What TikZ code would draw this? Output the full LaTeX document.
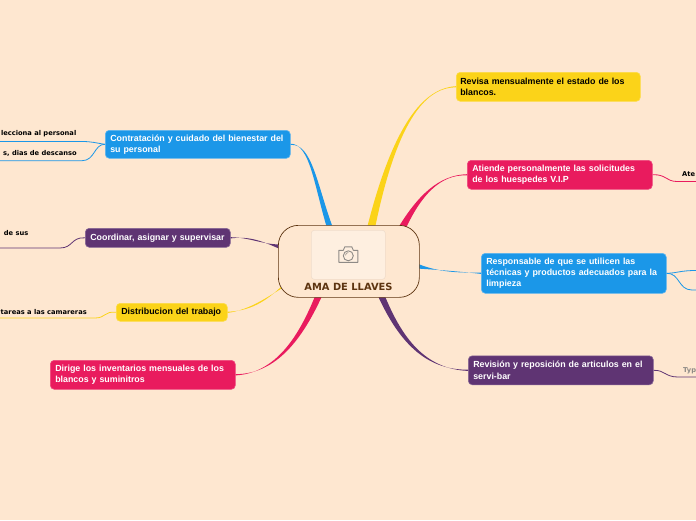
\documentclass[tikz,border=0pt]{standalone}
\usepackage{fontspec}
\setmainfont{Liberation Sans}
\newfontfamily\smallfont{DejaVu Sans}
\definecolor{bg}{HTML}{FEE7D0}
\definecolor{cblue}{HTML}{1B97E8}
\definecolor{cyellow}{HTML}{FBD319}
\definecolor{cred}{HTML}{E91B5E}
\definecolor{cpurple}{HTML}{5F3473}
\definecolor{cbrown}{HTML}{5D3410}
\definecolor{cgrey}{HTML}{8E8A86}
\tikzset{
 x=1pt,y=-1pt,
 topic/.style={rounded corners=4pt,inner xsep=5pt,inner ysep=0pt,align=left,font=\bfseries\fontsize{8.85}{11.2}\selectfont,text=white,anchor=north west,line width=.6pt},
 tblue/.style={topic,fill=cblue,draw=cblue!70!white},
 tyellow/.style={topic,fill=cyellow,draw=cyellow!80!white,text=black},
 tred/.style={topic,fill=cred,draw=cred!80!white},
 tpurple/.style={topic,fill=cpurple,draw=cpurple!75!white},
 subtext/.style={font=\smallfont\bfseries\fontsize{6.7}{8}\selectfont,inner sep=0pt,text=black},
 thinline/.style={line width=.8pt},
}
\begin{document}
\begin{tikzpicture}
\useasboundingbox (0,0) rectangle (696,520);
\fill[bg] (0,0) rectangle (696,520);
% named end points
\coordinate (cTL) at (330,228);
\coordinate (cTR) at (371,228);
\coordinate (cTR2) at (402,228);
\coordinate (cR) at (417,266);
\coordinate (cBR) at (381,295);
\coordinate (cBL) at (319,295);
\coordinate (cL2) at (283,286);
\coordinate (cL) at (281,247);
\coordinate (e1) at (0,141.5);
\coordinate (e2) at (0,160.7);
\coordinate (e3) at (0,248);
\coordinate (e4) at (0,318);
\coordinate (e5) at (696,181.5);
\coordinate (e6) at (696,270.5);
\coordinate (e7) at (696,290);
\coordinate (e8) at (696,377);
% nodes
\node[tblue,minimum width=185pt,minimum height=28pt,text width=175pt] (n1) at (105,130) {\mbox{Contratación y cuidado del bienestar del}\\\mbox{su personal}};
\node[tyellow,inner xsep=4pt,minimum width=184pt,minimum height=29pt,text width=176pt] (n2) at (456,72) {\mbox{Revisa mensualmente el estado de los}\\\mbox{blancos.}};
\node[tred,minimum width=185pt,minimum height=29pt,text width=175pt] (n3) at (467,160) {\mbox{Atiende personalmente las solicitudes}\\\mbox{de los huespedes V.I.P}};
\node[tblue,minimum width=185pt,minimum height=40pt,text width=175pt] (n4) at (481,253) {\mbox{Responsable de que se utilicen las}\\\mbox{técnicas y productos adecuados para la}\\\mbox{limpieza}};
\node[tpurple,minimum width=185pt,minimum height=29pt,text width=175pt] (n5) at (468,355.5) {\mbox{Revisión y reposición de articulos en el}\\\mbox{servi-bar}};
\node[tpurple,minimum width=145pt,minimum height=19pt,text width=135pt] (n6) at (85,228) {\mbox{Coordinar, asignar y supervisar}};
\node[tyellow,minimum width=111pt,minimum height=18pt,text width=101pt] (n7) at (116,303) {\mbox{Distribucion del trabajo}};
\node[tred,minimum width=185pt,minimum height=29pt,text width=175pt] (n8) at (50,360) {\mbox{Dirige los inventarios mensuales de los}\\\mbox{blancos y suminitros}};
% tapered main connectors
\fill[cblue] ([yshift=-.6pt]n1.east) .. controls (312,143) and (317,185) .. ([xshift=3pt]cTL) -- ([xshift=-3pt]cTL) .. controls (314,185) and (310,144) .. ([yshift=.6pt]n1.east);
\fill[cyellow] ([yshift=-.6pt]n2.west) .. controls (424,87) and (396,125) .. ([xshift=4pt]cTR) -- ([xshift=-4pt]cTR) .. controls (393,125) and (423,88) .. ([yshift=.6pt]n2.west);
\fill[cred] ([yshift=-.6pt]n3.west) .. controls (440,174) and (421,196) .. ([xshift=4pt]cTR2) -- ([xshift=-4pt]cTR2) .. controls (418,195) and (439,175) .. ([yshift=.6pt]n3.west);
\fill[cblue] ([yshift=-.6pt]n4.west) .. controls (460,271.5) and (440,270) .. ([yshift=-2.5pt]cR) -- ([yshift=2.5pt]cR) .. controls (440,273) and (460,272.5) .. ([yshift=.6pt]n4.west);
\fill[cpurple] ([yshift=-.6pt]n5.west) .. controls (425,369) and (402,338) .. ([xshift=3.5pt]cBR) -- ([xshift=-3.5pt]cBR) .. controls (398,340) and (424,370) .. ([yshift=.6pt]n5.west);
\fill[cred] ([yshift=-.6pt]n8.east) .. controls (276,373) and (299,336) .. ([xshift=-3.5pt]cBL) -- ([xshift=3.5pt]cBL) .. controls (303,338) and (277,374) .. ([yshift=.6pt]n8.east);
\fill[cyellow] ([yshift=-.6pt]n7.east) .. controls (248,310) and (263,300) .. ([yshift=-2.5pt,xshift=-1.5pt]cL2) -- ([yshift=2.5pt,xshift=1.5pt]cL2) .. controls (265,303) and (249,311) .. ([yshift=.6pt]n7.east);
\fill[cpurple] ([yshift=-.6pt]n6.east) .. controls (250,236) and (262,241) .. ([yshift=-2.5pt]cL) -- ([yshift=2.5pt]cL) .. controls (262,244.5) and (250,237.5) .. ([yshift=.6pt]n6.east);
% sub connectors
\draw[cblue,thinline] (n1.west) .. controls (96,143) and (92,141.5) .. (82,141.5) -- (e1);
\draw[cblue,thinline] (n1.west) .. controls (94,144) and (95,160.7) .. (82,160.7) -- (e2);
\draw[cpurple,thinline] (n6.west) .. controls (71,237) and (73,248) .. (60,248) -- (e3);
\draw[cyellow,thinline] (n7.west) .. controls (104,311) and (106,318) .. (95,318) -- (e4);
\draw[cred,thinline] (n3.east) .. controls (666,174) and (666,181.5) .. (677,181.5) -- (e5);
\draw[cblue,thinline] (n4.east) .. controls (678,273) and (680,270.5) .. (696,270.5) -- (e6);
\draw[cblue,thinline] (n4.east) .. controls (680,273) and (678,290) .. (692,290) -- (e7);
\draw[cpurple,thinline] (n5.east) .. controls (665,370) and (665,377) .. (678,377) -- (e8);
% central node
\node[draw=cbrown,fill=bg,line width=.7pt,rounded corners=20pt,minimum width=141pt,minimum height=72pt,anchor=north west,inner sep=0pt] (c) at (278,225) {};
\node[fill=white,fill opacity=.35,draw=black,draw opacity=.06,line width=.6pt,rounded corners=3pt,minimum width=74pt,minimum height=49pt,anchor=north west,inner sep=0pt] (pic) at (311,230) {};
\node[font=\smallfont\bfseries\fontsize{9.9}{12}\selectfont,text=cbrown,inner sep=0pt] (title) at (348.5,287) {AMA DE LLAVES};
% camera icon
\begin{scope}[shift={(pic.center)}]
\draw[cgrey,line width=.9pt,line join=round] (-9.5,-4.5) -- (-5,-4.5) -- (-3.5,-8) -- (3.5,-8) -- (5,-4.5) -- (9.5,-4.5) -- (9.5,7.5) -- (-9.5,7.5) -- cycle;
\draw[cgrey,line width=.9pt] (0,1) circle (5);
\draw[cgrey,line width=.6pt] (-2.8,0.5) arc (180:270:2.8);
\end{scope}
% sub texts
\node[subtext,anchor=east] (s1) at (76.5,133.5) {lecciona al personal};
\node[subtext,anchor=east] (s2) at (77,153.5) {s, dias de descanso};
\node[subtext,anchor=east] (s3) at (28.5,232.5) {de sus};
\node[subtext,anchor=east] (s4) at (87,311.5) {tareas a las camareras};
\node[subtext,anchor=west] (s5) at (682,174.5) {Ate};
\node[subtext,anchor=west,text=cgrey] (s6) at (683,370.5) {Typ};
\end{tikzpicture}
\end{document}
